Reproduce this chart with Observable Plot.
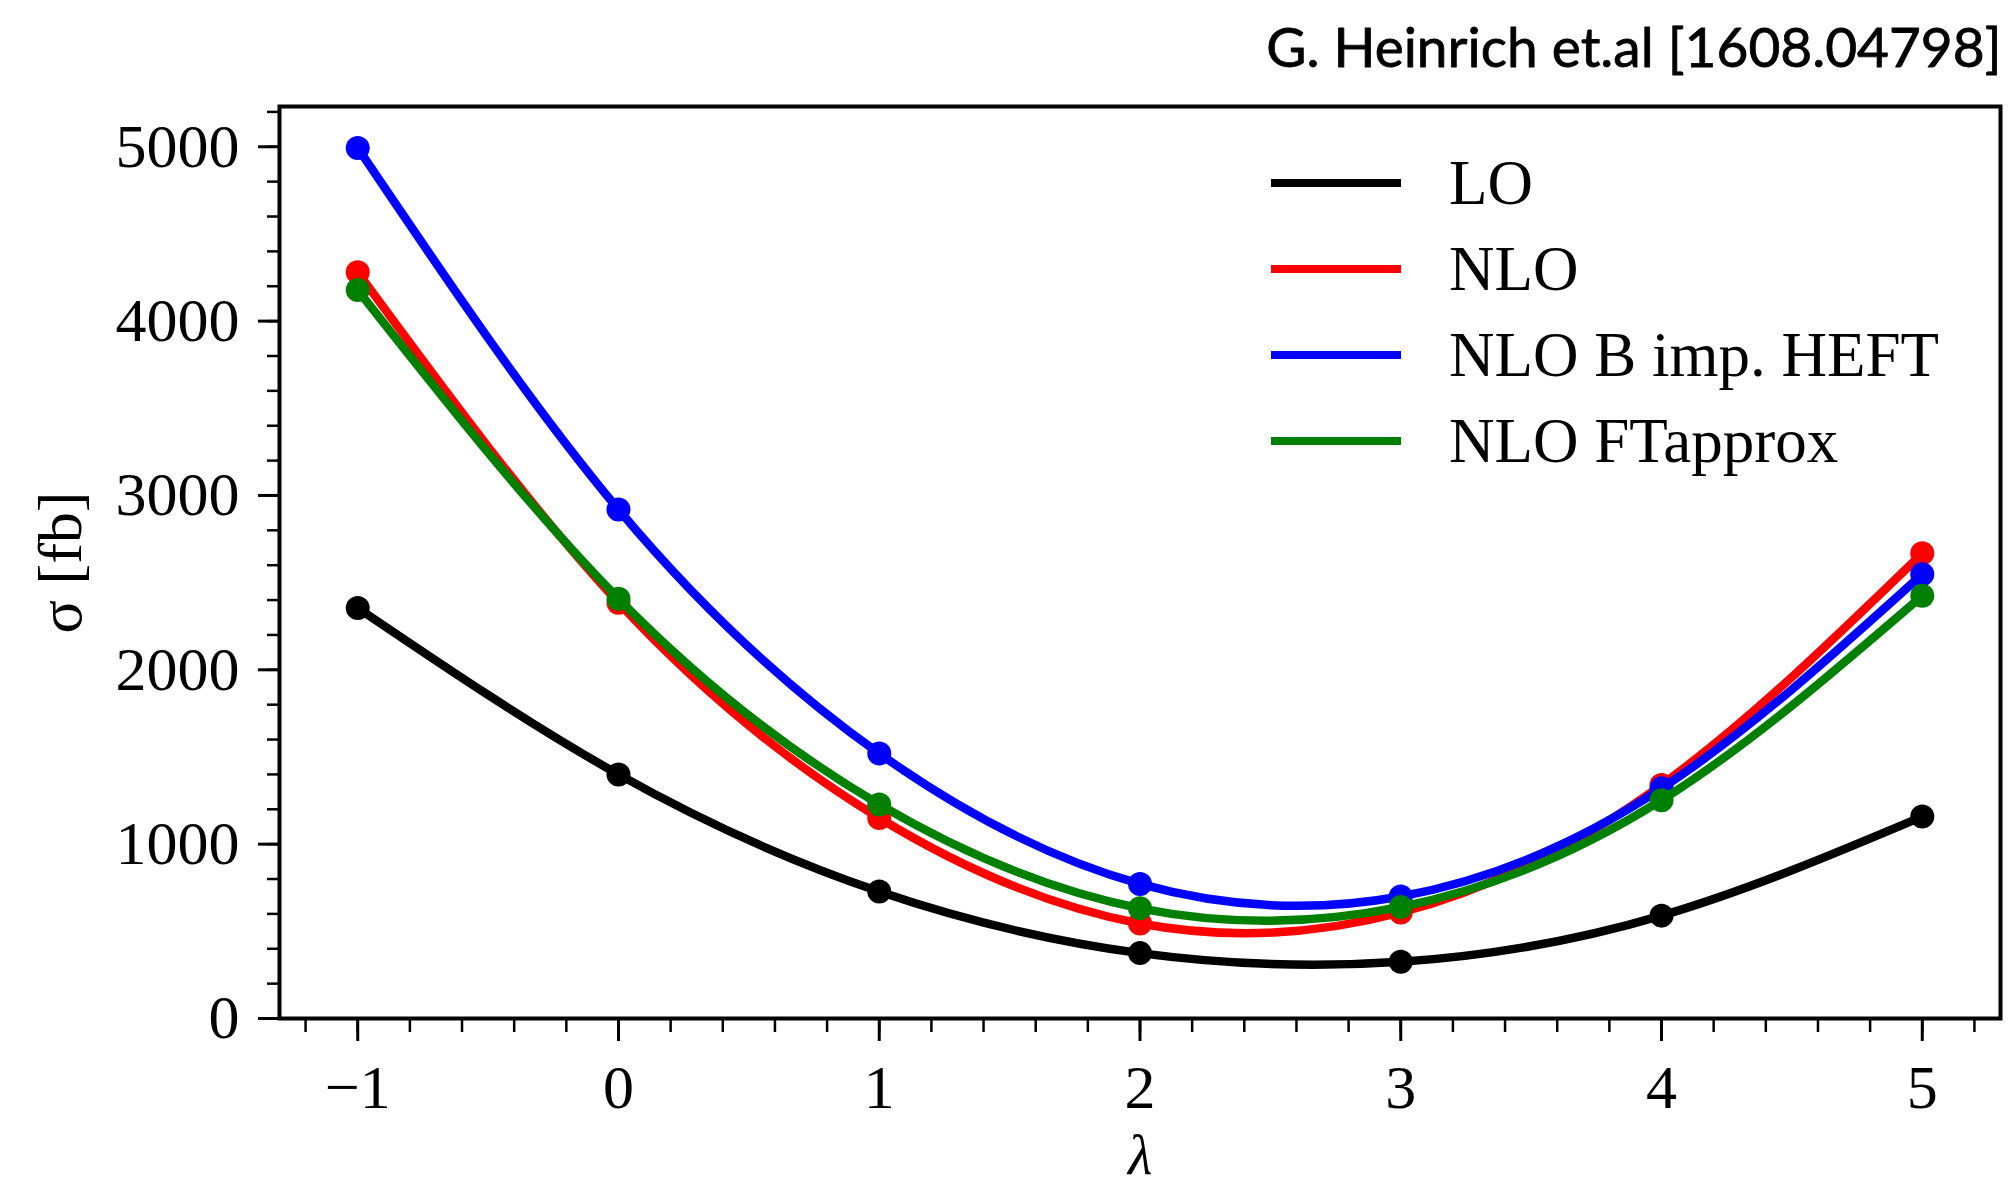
<!DOCTYPE html>
<html>
<head>
<meta charset="utf-8">
<script src="https://cdn.jsdelivr.net/npm/d3@7"></script>
<script src="https://cdn.jsdelivr.net/npm/@observablehq/plot@0.6"></script>
<style>
  html, body { margin: 0; padding: 0; background: #fff; }
  #chart { width: 2009px; height: 1185px; }
</style>
</head>
<body>
<div id="chart"></div>
<script>
// ---- data ----
const lambdas = [-1, 0, 1, 2, 3, 4, 5];
const seriesNames = ["LO", "NLO", "NLO B imp. HEFT", "NLO FTapprox"];
const seriesColors = ["#000000", "#ff0000", "#0000ff", "#008000"];
const sigmaLO = [2355, 1400, 728, 375, 325, 590, 1158];
const sigmaNLO = [4280, 2385, 1150, 545, 608, 1340, 2668];
const sigmaHEFT = [4993, 2920, 1520, 772, 700, 1320, 2548];
const sigmaFT = [4178, 2408, 1228, 632, 640, 1252, 2425];
const xMajorTicks = [-1, 0, 1, 2, 3, 4, 5];
const xTickLabels = ["−1", "0", "1", "2", "3", "4", "5"];
const yMajorTicks = [0, 1000, 2000, 3000, 4000, 5000];
const yTickLabels = ["0", "1000", "2000", "3000", "4000", "5000"];
const xMinorTicks = d3.range(-12, 53, 2).map(v => v / 10);
const yMinorTicks = d3.range(0, 5201, 200);
const titleText = "G. Heinrich et.al [1608.04798]";
const xLabel = "λ";
const yLabelSymbol = "σ";
const yLabelUnit = " [fb]";

const seriesValues = [sigmaLO, sigmaNLO, sigmaHEFT, sigmaFT];
const table = seriesNames.flatMap((name, k) =>
  lambdas.map((l, i) => ({series: name, lambda: l, sigma: seriesValues[k][i]})));

// ---- layout ----
const W = 2009, H = 1185;
const M = {top: 106, right: 9, bottom: 167, left: 279};
const serif = "'Liberation Serif', 'Times New Roman', serif";

const seriesMarks = seriesNames.flatMap((name, k) => {
  const rows = table.filter(d => d.series === name);
  return [
    Plot.line(rows, {x: "lambda", y: "sigma", stroke: seriesColors[k], strokeWidth: 8.5, curve: "natural"}),
    Plot.dot(rows, {x: "lambda", y: "sigma", r: 12, fill: seriesColors[k], stroke: "none"})
  ];
});

const plot = Plot.plot({
  width: W, height: H,
  marginTop: M.top, marginRight: M.right, marginBottom: M.bottom, marginLeft: M.left,
  style: {fontFamily: serif, fontSize: "62px", background: "#fff", color: "#000", overflow: "visible"},
  x: {domain: [-1.3, 5.3]},
  y: {domain: [0, 5231]},
  marks: [
    Plot.axisY(yMinorTicks, {tickSize: 12, strokeWidth: 2.5, text: null, label: null}),
    Plot.axisY(yMajorTicks, {tickSize: 21, tickPadding: 19, strokeWidth: 3, label: null, fontSize: 62,
      tickFormat: d => yTickLabels[yMajorTicks.indexOf(d)]}),
    Plot.axisX(xMinorTicks, {tickSize: 14, strokeWidth: 2.5, text: null, label: null}),
    Plot.axisX(xMajorTicks, {tickSize: 23, tickPadding: 22, strokeWidth: 3, label: null, fontSize: 62,
      tickFormat: d => xTickLabels[xMajorTicks.indexOf(d)]}),
    ...seriesMarks,
    Plot.frame({stroke: "#000", strokeWidth: 4}),
    Plot.text([titleText], {text: d => d, frameAnchor: "top-right", textAnchor: "end", lineAnchor: "bottom",
      dx: 1, dy: -40, fontFamily: "Lato, 'Open Sans', sans-serif", fontSize: 55, fill: "#000",
      stroke: "#000", strokeWidth: 0.8}),
    Plot.text([xLabel], {text: d => d, frameAnchor: "bottom", textAnchor: "middle", lineAnchor: "bottom", dy: 155,
      fontStyle: "italic", fontSize: 56, fill: "#000"}),
    Plot.text([yLabelSymbol + yLabelUnit], {text: d => d, frameAnchor: "left", textAnchor: "middle", rotate: -90, dx: -218,
      fontSize: 62, fill: "#000", ariaLabel: "ylabel"})
  ]
});
document.getElementById("chart").appendChild(plot);

// italic sigma in the y label
const svg = d3.select(plot);
const yl = svg.select('[aria-label="ylabel"] text');
yl.text(null).attr("text-anchor", "middle");
yl.append("tspan").attr("font-style", "italic").text(yLabelSymbol);
yl.append("tspan").text(yLabelUnit);

// legend (upper right, inside the frame)
const legendLeft = M.left + 992, legendLen = 130, legendTextX = M.left + 1170;
const legendTop = M.top + 77, legendStep = 86;
const lg = svg.append("g").attr("aria-label", "legend");
seriesNames.forEach((name, k) => {
  const y = legendTop + k * legendStep;
  lg.append("line").attr("x1", legendLeft).attr("x2", legendLeft + legendLen)
    .attr("y1", y).attr("y2", y).attr("stroke", seriesColors[k]).attr("stroke-width", 8);
  lg.append("text").attr("x", legendTextX).attr("y", y + 21).attr("text-anchor", "start")
    .attr("font-family", serif).attr("font-size", 63).attr("fill", "#000").text(name);
});
</script>
</body>
</html>
